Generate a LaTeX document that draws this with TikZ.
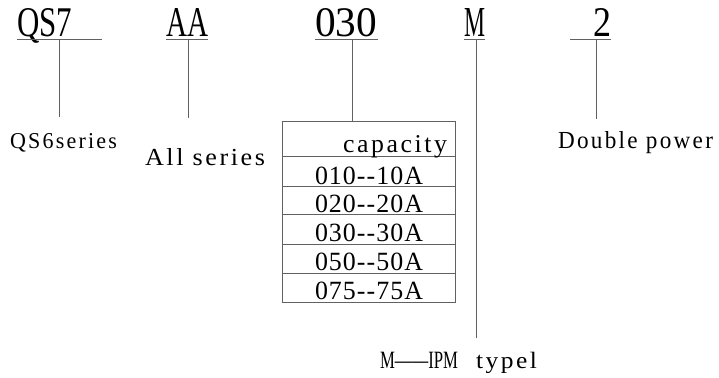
\documentclass[tikz,border=0pt]{standalone}
\usepackage{fontspec}
\usepackage{graphicx}
\newfontfamily\codefont{Liberation Serif}
\newfontfamily\labfont[LetterSpace=10]{Liberation Serif}
\newfontfamily\rowfont[LetterSpace=4]{Liberation Serif}
% set a text at a fixed width and height (above the baseline)
\newcommand{\sized}[4]{{#1\resizebox{#2pt}{#3pt}{#4}}}
\begin{document}
\begin{tikzpicture}[x=1pt,y=-1pt,
  rule/.style={draw=black!62,line width=1pt},
  txt/.style={inner sep=0pt,outer sep=0pt,anchor=base west},
  cell/.style={draw=black!62,line width=1pt,inner sep=0pt,outer sep=0pt}]
\useasboundingbox (0,0) rectangle (719,377);

% model code parts
\node[txt] (qs)  at (17,37)  {\sized{\codefont}{55}{28}{QS7}};
\node[txt] (aa)  at (166,37) {\sized{\codefont}{42}{28}{AA}};
\node[txt] (cap) at (315,37) {\sized{\codefont}{62}{28}{030}};
\node[txt] (m)   at (464,37) {\sized{\codefont}{21}{28}{M}};
\node[txt] (two) at (593,37) {\sized{\codefont}{18}{28}{2}};

% underlines
\coordinate (qsL) at (17,40);  \coordinate (qsR) at (102,40);
\coordinate (aaL) at (166,40); \coordinate (aaR) at (208,40);
\coordinate (cpL) at (315,40); \coordinate (cpR) at (378,40);
\coordinate (mL)  at (464,40); \coordinate (mR)  at (485,40);
\coordinate (twL) at (570,40); \coordinate (twR) at (611,40);
\draw[rule] (qsL) -- (qsR);
\draw[rule] (aaL) -- (aaR);
\draw[rule] (cpL) -- (cpR);
\draw[rule] (mL) -- (mR);
\draw[rule] (twL) -- (twR);

% descriptions
\node[txt] (qsd) at (10,148)  {\sized{\labfont}{107}{15}{QS6series}};
\node[txt] (aad) at (145,165) {\sized{\labfont}{120}{17}{All series}};
\node[txt] (twd) at (558,148) {\sized{\labfont}{155}{17}{Double power}};
\node[txt] (md)  at (380,368) {\sized{\codefont}{78}{16.3}{M——IPM}\hspace{18pt}\sized{\labfont}{61}{16.3}{typel}};

% capacity table
\node[cell,anchor=north west,minimum width=173pt,minimum height=181.7pt] (tab) at (282,121) {};
\coordinate (r1) at (282,156.7);
\coordinate (r2) at (282,186);
\coordinate (r3) at (282,214.7);
\coordinate (r4) at (282,244);
\coordinate (r5) at (282,273.3);
\foreach \r in {r1,r2,r3,r4,r5}
  \draw[rule] (\r) -- (\r -| tab.east);
\node[txt] (hd) at (343,152.3) {\sized{\labfont}{104}{17}{capacity}};
\node[txt] (c1) at (315,184)   {\sized{\rowfont}{108}{17.5}{010--10A}};
\node[txt] (c2) at (315,212.3) {\sized{\rowfont}{108}{17.5}{020--20A}};
\node[txt] (c3) at (315,241.7) {\sized{\rowfont}{108}{17.5}{030--30A}};
\node[txt] (c4) at (315,270.5) {\sized{\rowfont}{108}{17.5}{050--50A}};
\node[txt] (c5) at (315,299.7) {\sized{\rowfont}{108}{17.5}{075--75A}};

% leader lines
\coordinate (qsE) at (59,117);
\coordinate (aaE) at (188,118);
\coordinate (mE)  at (476,338);
\coordinate (twE) at (596,119);
\draw[rule] (qsL -| qsE) -- (qsE);
\draw[rule] (aaL -| aaE) -- (aaE);
\draw[rule] (352,40) coordinate (cpT) -- (cpT |- tab.north);
\draw[rule] (mL -| mE) -- (mE);
\draw[rule] (twL -| twE) -- (twE);
\end{tikzpicture}
\end{document}
